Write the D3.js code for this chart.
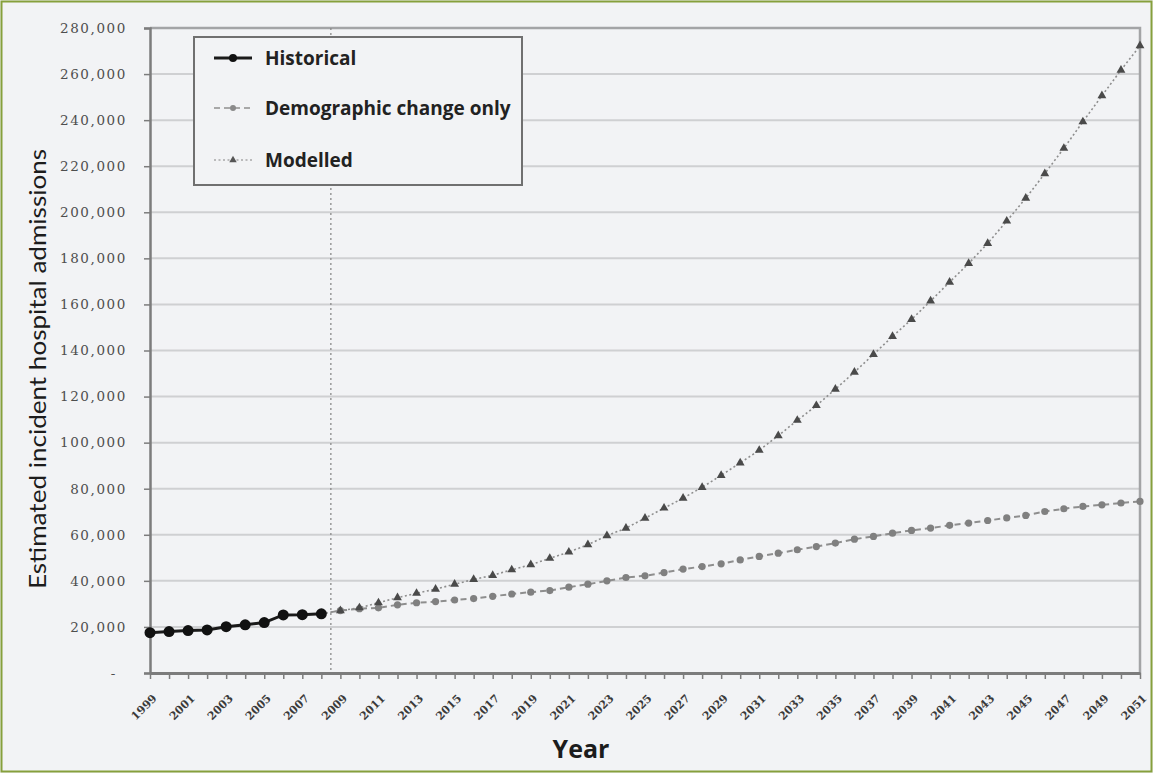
<!DOCTYPE html>
<html><head><meta charset="utf-8">
<script src="https://cdn.jsdelivr.net/npm/d3@7/dist/d3.min.js"></script>
<style>html,body{margin:0;padding:0;background:#f2f3f5;} svg{display:block}</style>
</head><body>
<svg id="chart" width="1153" height="773"></svg>
<script>
// ---- data ----
const years = d3.range(1999, 2052);
const histYears = [1999,2000,2001,2002,2003,2004,2005,2006,2007,2008];
const historical = [17500,18000,18400,18700,20100,20900,21900,25200,25300,25700];
const projYears = d3.range(2008, 2052);
const demographic = [25700,27100,27900,28300,29600,30500,31000,31700,32300,33300,34300,35100,35800,37250,38550,40000,41450,42200,43600,45100,46200,47400,49100,50600,52000,53500,54900,56400,58100,59300,60700,61900,62900,64100,65100,66200,67300,68400,70100,71300,72300,73000,73800,74500];
const modelled = [25700,27100,28300,30500,32700,34600,36400,38550,40600,42400,44800,47000,49800,52500,55700,59600,62900,67200,71600,75900,80600,85800,91200,96700,103000,109700,116100,123200,130600,138300,146100,153500,161500,169700,177800,186500,196200,206100,216800,227800,239300,250600,261700,272300];
const yTicks = [0,20000,40000,60000,80000,100000,120000,140000,160000,180000,200000,220000,240000,260000,280000];
const legendLabels = ["Historical","Demographic change only","Modelled"];
const splitYear = 2008.5;

// ---- layout ----
const svg = d3.select("#chart");
const L = 150, R = 1140, T = 28, B = 673;
const x = d3.scaleLinear().domain([1999, 2051]).range([L, R]);
const y = d3.scaleLinear().domain([0, 280000]).range([B, T]);

// outer border
svg.append("rect").attr("x",1.5).attr("y",1.5).attr("width",1150).attr("height",770)
  .attr("fill","#f2f3f5").attr("stroke","#86a03c").attr("stroke-width",2);

// gridlines
svg.append("g").selectAll("line").data(yTicks.filter(d=>d>0)).join("line")
  .attr("x1",L).attr("x2",R).attr("y1",d=>y(d)).attr("y2",d=>y(d))
  .attr("stroke","#cfd0d2").attr("stroke-width",2);

// plot border top/right
svg.append("path").attr("d",`M${L},${T}H${R}V${B}`).attr("fill","none")
  .attr("stroke","#a3a4a6").attr("stroke-width",2.5);

// vertical split line
svg.append("line").attr("x1",x(splitYear)).attr("x2",x(splitYear)).attr("y1",T).attr("y2",B)
  .attr("stroke","#8a8a8a").attr("stroke-width",1.3).attr("stroke-dasharray","2,3");

// y axis
const yAxis = svg.append("g").attr("transform",`translate(${L},0)`)
  .call(d3.axisLeft(y).tickValues(yTicks).tickSize(6).tickPadding(17)
    .tickFormat(d => d === 0 ? "-" : d3.format(",")(d)));
yAxis.select(".domain").attr("stroke","#7c7c7c").attr("stroke-width",2.5);
yAxis.selectAll(".tick line").attr("stroke","#7c7c7c").attr("stroke-width",1.5);
yAxis.selectAll(".tick text").attr("fill","#4e4e4e").style("font-family","'DejaVu Serif', serif")
  .style("font-size","13.5px").style("letter-spacing","1.6px");
yAxis.selectAll(".tick text").filter(d=>d===0).attr("dx","-10");

// x axis
const xAxis = svg.append("g").attr("transform",`translate(0,${B})`)
  .call(d3.axisBottom(x).tickValues(years).tickSize(6).tickSizeOuter(0)
    .tickFormat(d => (d - 1999) % 2 === 0 ? String(d) : ""));
xAxis.select(".domain").attr("stroke","#7c7c7c").attr("stroke-width",3);
xAxis.selectAll(".tick line").attr("stroke","#7c7c7c").attr("stroke-width",1.5);
xAxis.selectAll(".tick text").attr("fill","#3a3a3a")
  .style("font-family","'DejaVu Serif', serif").style("font-size","11px").style("font-weight","bold")
  .attr("text-anchor","end").attr("dy",0).attr("y",0)
  .attr("transform","translate(7,26) rotate(-45)");

// axis titles
svg.append("text").attr("x",581).attr("y",758).attr("text-anchor","middle")
  .style("font-family","'Open Sans', sans-serif").style("font-size","25px").style("font-weight","bold")
  .attr("fill","#1c1c1c").text("Year");
svg.append("text").attr("transform","translate(46,369) rotate(-90)").attr("text-anchor","middle")
  .attr("textLength",440).attr("lengthAdjust","spacingAndGlyphs")
  .style("font-family","Lato, sans-serif").style("font-size","23px")
  .attr("fill","#1c1c1c").text("Estimated incident hospital admissions");

// series
const line = d3.line().x(d=>x(d[0])).y(d=>y(d[1]));
const demoPts = projYears.map((yr,i)=>[yr, demographic[i]]);
const modPts = projYears.map((yr,i)=>[yr, modelled[i]]);
const histPts = histYears.map((yr,i)=>[yr, historical[i]]);
const tri = d3.symbol().type(d3.symbolTriangle).size(34);

// demographic
svg.append("path").attr("d",line(demoPts)).attr("fill","none").attr("stroke","#8e8e8e")
  .attr("stroke-width",2).attr("stroke-dasharray","6,4");
svg.append("g").selectAll("circle").data(demoPts.slice(1)).join("circle")
  .attr("cx",d=>x(d[0])).attr("cy",d=>y(d[1])).attr("r",3.6).attr("fill","#808080");
// modelled
svg.append("path").attr("d",line(modPts)).attr("fill","none").attr("stroke","#8e8e8e")
  .attr("stroke-width",1.6).attr("stroke-dasharray","2,2.5");
svg.append("g").selectAll("path").data(modPts.slice(1)).join("path")
  .attr("d",tri).attr("transform",d=>`translate(${x(d[0])},${y(d[1])})`).attr("fill","#4a4a4a");
// historical
svg.append("path").attr("d",line(histPts)).attr("fill","none").attr("stroke","#1a1a1a").attr("stroke-width",3);
svg.append("g").selectAll("circle").data(histPts).join("circle")
  .attr("cx",d=>x(d[0])).attr("cy",d=>y(d[1])).attr("r",5.5).attr("fill","#111");

// legend
const lg = svg.append("g");
lg.append("rect").attr("x",194).attr("y",37).attr("width",328).attr("height",148)
  .attr("fill","#f2f3f5").attr("stroke","#707070").attr("stroke-width",2);
const ly = [58,108,160];
lg.append("line").attr("x1",214).attr("x2",252).attr("y1",ly[0]).attr("y2",ly[0]).attr("stroke","#1a1a1a").attr("stroke-width",3);
lg.append("circle").attr("cx",233).attr("cy",ly[0]).attr("r",4).attr("fill","#111");
lg.append("line").attr("x1",214).attr("x2",252).attr("y1",ly[1]).attr("y2",ly[1]).attr("stroke","#a8a8a8").attr("stroke-width",2).attr("stroke-dasharray","6,4");
lg.append("circle").attr("cx",233).attr("cy",ly[1]).attr("r",3).attr("fill","#8a8a8a");
lg.append("line").attr("x1",214).attr("x2",252).attr("y1",ly[2]).attr("y2",ly[2]).attr("stroke","#a8a8a8").attr("stroke-width",1.6).attr("stroke-dasharray","2,2.5");
lg.append("path").attr("d",d3.symbol().type(d3.symbolTriangle).size(24)).attr("transform",`translate(233,${ly[2]})`).attr("fill","#555");
lg.selectAll("text.lbl").data(legendLabels).join("text").attr("class","lbl")
  .attr("x",265).attr("y",(d,i)=>ly[i]).attr("dy","0.35em")
  .style("font-family","'Open Sans', sans-serif").style("font-size","19px").style("font-weight","bold")
  .attr("fill","#222").text(d=>d);
</script>
</body></html>
